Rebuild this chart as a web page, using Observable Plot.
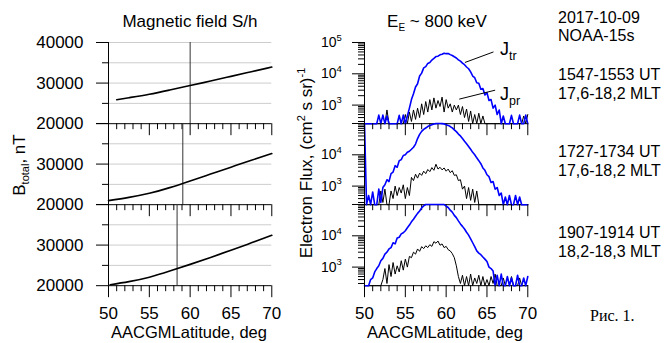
<!DOCTYPE html>
<html>
<head>
<meta charset="utf-8">
<script src="https://cdn.jsdelivr.net/npm/d3@7"></script>
<script src="https://cdn.jsdelivr.net/npm/@observablehq/plot@0.6"></script>
<style>
html, body { margin: 0; padding: 0; background: #fff; }
#fig { position: relative; width: 672px; height: 343px; overflow: hidden; background: #fff;
       font-family: "Liberation Sans", Arial, sans-serif; color: #000; }
.panel { position: absolute; }
#overlay { position: absolute; left: 0; top: 0; pointer-events: none; }
</style>
</head>
<body>
<div id="fig"></div>
<script>
// ---------------- data ----------------
const lat = [50,50.25,50.5,50.75,51,51.25,51.5,51.75,52,52.25,52.5,52.75,53,53.25,53.5,53.75,54,54.25,54.5,54.75,
  55,55.25,55.5,55.75,56,56.25,56.5,56.75,57,57.25,57.5,57.75,58,58.25,58.5,58.75,59,59.25,59.5,59.75,
  60,60.25,60.5,60.75,61,61.25,61.5,61.75,62,62.25,62.5,62.75,63,63.25,63.5,63.75,64,64.25,64.5,64.75,
  65,65.25,65.5,65.75,66,66.25,66.5,66.75,67,67.25,67.5,67.75,68,68.25,68.5,68.75,69,69.25,69.5,69.75,70];

// Electron flux, pass 1 (1547-1553 UT)
const jtr1 = [100,100,100,100,100,100,100,480,100,480,
  100,450,100,100,100,100,100,470,100,480,
  100,450,800,1500,2300,3800,4800,8500,10500,15500,
  17000,21500,23000,27500,31000,35500,36500,40500,42000,45500,
  44000,44500,41000,38500,35000,32000,28000,25500,22000,19500,
  16500,14500,11500,8500,7500,5200,5000,3200,3400,2100,
  2500,1400,1500,800,1000,500,700,100,450,100,
  100,100,470,100,100,100,480,100,100,480,100];
const jpr1 = [100,100,100,100,100,100,100,100,100,100,
  100,700,100,100,100,100,100,100,100,100,
  500,100,600,300,700,350,800,400,1100,500,
  1300,600,1500,700,1700,800,1400,900,1800,600,
  1500,800,1100,600,1000,700,1000,500,900,400,
  750,300,650,100,500,100,550,100,450,100,
  100,100,100,100,100,100,100,100,100,100,
  100,100,100,100,100,100,100,100,450,100,500];

// Electron flux, pass 2 (1727-1734 UT)
const jtr2 = [200000,100,500,100,650,100,100,800,300,900,
  1100,1600,1400,2500,2800,4500,4000,6500,7000,9500,
  10000,12000,13000,15000,17500,22000,33000,45000,56000,65000,
  72000,80000,87000,92000,96000,99000,100000,100000,99000,97000,
  92000,87000,80000,72000,63000,55000,46000,40000,33000,27000,
  22500,18500,15000,12000,10000,8000,6500,5200,3800,3200,
  2300,2000,1300,1400,800,900,500,600,100,450,
  100,500,100,100,500,100,450,100,100,100,100];
const jpr2 = [100,100,100,100,100,100,100,100,700,300,
  800,100,100,700,400,1000,500,900,600,1100,
  400,900,500,1900,1500,2400,1800,2600,2200,3000,
  2500,3400,2900,3900,3200,5000,3500,4000,3300,3800,
  3000,3500,2700,3100,2200,2300,1500,1600,800,1000,
  400,900,350,800,300,700,100,100,100,100,
  100,100,100,100,100,100,100,100,100,100,
  100,100,100,100,100,100,100,100,100,100,100];

// Electron flux, pass 3 (1907-1914 UT)
const jtr3 = [100,100,100,400,450,700,900,1100,1600,1900,
  2600,3000,3800,4200,6000,5500,8500,9000,11500,12500,
  14500,18000,22000,28000,34000,42000,52000,62000,78000,90000,
  100000,110000,120000,130000,130000,125000,120000,115000,110000,100000,
  88000,80000,66000,57000,45000,38000,30000,24000,20000,16500,
  13000,10500,8000,6000,4500,3300,2800,2500,2100,1800,
  1500,1000,900,750,100,550,100,600,100,100,
  500,100,450,100,100,550,100,100,450,100,500];
const jpr3 = [100,100,100,100,100,100,100,100,100,400,
  900,300,1200,500,1400,600,1100,700,1600,800,
  1800,1000,2200,2000,3000,2600,3800,3200,4500,3900,
  4800,4200,5200,4600,6500,5800,6800,5000,5500,4200,
  4600,3600,3300,2700,2000,1100,500,300,550,100,
  500,250,600,100,450,300,550,100,500,100,
  400,100,500,300,600,100,100,100,450,100,
  100,100,500,100,100,100,450,100,100,100,100];

// Magnetic field along each pass
const bLat1 = [51, 52.5, 55, 57.5, 60, 62.5, 65, 67.5, 70];
const bVal1 = [25900, 26400, 27250, 28300, 29400, 30500, 31650, 32800, 33950];
const bLat2 = [50, 52.5, 55, 57.5, 60, 62.5, 65, 67.5, 70];
const bVal2 = [21000, 21800, 22800, 24200, 25850, 27550, 29250, 30950, 32600];
const bLat3 = [50.2, 52.5, 55, 57.5, 60, 62.5, 65, 67.5, 70];
const bVal3 = [20250, 21000, 22100, 23600, 25250, 26950, 28700, 30550, 32400];
const markerLat = [60.0, 59.1, 58.4];

// ticks / labels
const xDomain = [50, 70];
const xMajor = [50, 55, 60, 65, 70];
const xMinor = [51, 52, 53, 54, 56, 57, 58, 59, 61, 62, 63, 64, 66, 67, 68, 69];
const bDomain = [20000, 40000];
const bMajor = [20000, 30000, 40000];
const bMinor = [25000, 35000];
const fluxDomain = [255, 100000];
const fluxMajor = [1000, 10000, 100000];
const fluxMinor = [300, 400, 500, 600, 700, 800, 900,
  2000, 3000, 4000, 5000, 6000, 7000, 8000, 9000,
  20000, 30000, 40000, 50000, 60000, 70000, 80000, 90000];

// annotation anchors (data units of the first flux panel)
const annotLeaders = [
  {lat1: 62.3, f1: 23000, lat2: 65.8, f2: 50000},
  {lat1: 61.6, f1: 1550, lat2: 66.0, f2: 3000}
];
const annotLabels = [
  {lat: 66.6, flux: 60000, sub: "tr"},
  {lat: 66.6, flux: 2240, sub: "pr"}
];

// ---------------- layout ----------------
const FONT = "Liberation Sans, Arial, Helvetica, sans-serif";
const W = 163.3, H = 81.2;
const LEFT_X = 108.3, RIGHT_X = 364.3;
const TOPS = [41.7, 122.9, 204.1];
const fig = document.getElementById("fig");

const rows = (xs, ys) => xs.map((x, i) => ({x, y: ys[i]}));

function place(svg, left, top) {
  const div = document.createElement("div");
  div.className = "panel";
  div.style.left = left + "px";
  div.style.top = top + "px";
  div.style.width = W + "px";
  div.style.height = H + "px";
  div.appendChild(svg);
  fig.appendChild(div);
}

function commonTicks(isBottom) {
  const m = [
    Plot.tickX(xMajor, {x: d => d, stroke: "black", strokeWidth: 1, insetTop: H - 12, dy: 12}),
    Plot.tickX(xMinor, {x: d => d, stroke: "black", strokeWidth: 1, insetTop: H - 6, dy: 6})
  ];
  if (isBottom) {
    m.push(Plot.text(xMajor, {x: d => d, text: d => String(d), frameAnchor: "bottom", dy: 33,
      fontSize: 17, fontFamily: FONT, fill: "black"}));
  }
  return m;
}

const plotStyle = {overflow: "visible", background: "transparent", maxWidth: "none", fontFamily: FONT};

// Magnetic field panels
const bSeries = [[bLat1, bVal1], [bLat2, bVal2], [bLat3, bVal3]];
bSeries.forEach(([bl, bv], k) => {
  const grid = k === 0 ? [25000, 30000, 35000, 40000] : [25000, 30000, 35000];
  const labs = k === 0 ? bMajor : bMajor.filter(v => v < bDomain[1]);
  const svg = Plot.plot({
    width: W, height: H,
    marginTop: 0, marginRight: 0, marginBottom: 0, marginLeft: 0,
    style: plotStyle,
    x: {domain: xDomain, axis: null},
    y: {domain: bDomain, axis: null},
    marks: [
      Plot.ruleY(grid, {y: d => d, stroke: "#cdcdcd", strokeWidth: 1}),
      Plot.ruleX([markerLat[k]], {x: d => d, stroke: "#333", strokeWidth: 1}),
      Plot.line(rows(bl, bv), {x: "x", y: "y", stroke: "black", strokeWidth: 1.6, curve: "natural"}),
      Plot.ruleX([xDomain[0]], {x: d => d, stroke: "black", strokeWidth: 1}),
      Plot.ruleY([bDomain[0]], {y: d => d, stroke: "black", strokeWidth: 1}),
      Plot.tickY(bMajor, {y: d => d, stroke: "black", insetRight: W - 12, dx: -12}),
      Plot.tickY(bMinor, {y: d => d, stroke: "black", insetRight: W - 6, dx: -6}),
      Plot.text(labs, {y: d => d, text: d => String(d), frameAnchor: "left", textAnchor: "end", dx: -25,
        fontSize: 17, fontFamily: FONT, fill: "black"}),
      ...commonTicks(k === 2)
    ]
  });
  place(svg, LEFT_X, TOPS[k]);
});

// Electron flux panels
const fSeries = [[jtr1, jpr1], [jtr2, jpr2], [jtr3, jpr3]];
fSeries.forEach(([jtr, jpr], k) => {
  const labs = k === 0 ? fluxMajor : fluxMajor.filter(v => v < fluxDomain[1]);
  const marks = [
    Plot.ruleY([fluxDomain[0]], {y: d => d, stroke: "black", strokeWidth: 1}),
    Plot.line(rows(lat, jpr), {x: "x", y: "y", stroke: "black", strokeWidth: 1}),
    Plot.line(rows(lat, jtr), {x: "x", y: "y", stroke: "#0000ff", strokeWidth: 1.6}),
    Plot.ruleX([xDomain[0]], {x: d => d, stroke: "black", strokeWidth: 1}),
    Plot.tickY(fluxMajor, {y: d => d, stroke: "black", insetRight: W - 12, dx: -12}),
    Plot.tickY(fluxMinor, {y: d => d, stroke: "black", insetRight: W - 6, dx: -6}),
    Plot.text(labs, {y: d => d, text: () => "10", frameAnchor: "left", textAnchor: "end", dx: -28,
      fontSize: 14, fontFamily: FONT, fill: "black"}),
    Plot.text(labs, {y: d => d, text: d => String(Math.round(Math.log10(d))), frameAnchor: "left",
      textAnchor: "start", dx: -28, dy: -5, fontSize: 9.5, fontFamily: FONT, fill: "black"}),
    ...commonTicks(k === 2)
  ];
  if (k === 0) {
    marks.push(
      Plot.link(annotLeaders, {x1: "lat1", y1: "f1", x2: "lat2", y2: "f2", stroke: "black", strokeWidth: 1}),
      Plot.text(annotLabels, {x: "lat", y: "flux", text: () => "J", textAnchor: "start",
        fontSize: 18, fontFamily: FONT, fill: "black"}),
      Plot.text(annotLabels, {x: "lat", y: "flux", text: "sub", textAnchor: "start", dx: 9, dy: 7,
        fontSize: 12.5, fontFamily: FONT, fill: "black"})
    );
  }
  const svg = Plot.plot({
    width: W, height: H,
    marginTop: 0, marginRight: 0, marginBottom: 0, marginLeft: 0,
    style: plotStyle,
    x: {domain: xDomain, axis: null},
    y: {type: "log", domain: fluxDomain, clamp: true, axis: null},
    marks
  });
  place(svg, RIGHT_X, TOPS[k]);
});

// ---------------- titles & side text ----------------
const ov = d3.select(fig).append("svg").attr("id", "overlay")
  .attr("width", 672).attr("height", 343)
  .attr("font-family", FONT).attr("fill", "black");

function txt(x, y, size, anchor) {
  return ov.append("text").attr("x", x).attr("y", y).attr("font-size", size).attr("text-anchor", anchor || "start");
}

txt(190, 26.5, 17, "middle").text("Magnetic field S/h");

const t2 = txt(437, 26.5, 17, "middle");
t2.append("tspan").text("E");
t2.append("tspan").attr("font-size", 10).attr("dy", 4).text("E");
t2.append("tspan").attr("dy", -4).text(" ~ 800 keV");

// rotated y titles
const yb = ov.append("text").attr("transform", "translate(25,165) rotate(-90)")
  .attr("font-size", 17).attr("text-anchor", "middle");
yb.append("tspan").text("B");
yb.append("tspan").attr("font-size", 11).attr("dy", 4).text("total");
yb.append("tspan").attr("dy", -4).text(", nT");

const yf = ov.append("text").attr("transform", "translate(312,163) rotate(-90)")
  .attr("font-size", 17).attr("text-anchor", "middle");
yf.append("tspan").text("Electron Flux, (cm");
yf.append("tspan").attr("font-size", 11).attr("dy", -7).text("2");
yf.append("tspan").attr("dy", 7).text(" s sr)");
yf.append("tspan").attr("font-size", 11).attr("dy", -7).text("-1");

// x titles
txt(189, 338, 16.5, "middle").text("AACGMLatitude, deg");
txt(445, 338, 16.5, "middle").text("AACGMLatitude, deg");

// right-hand text block
const sideLines = [
  ["2017-10-09", 22.75], ["NOAA-15s", 41.25],
  ["1547-1553 UT", 80], ["17,6-18,2 MLT", 98.5],
  ["1727-1734 UT", 157], ["17,6-18,2 MLT", 175.5],
  ["1907-1914 UT", 238], ["18,2-18,3 MLT", 256.5]
];
sideLines.forEach(([s, y]) => txt(558, y, 16, "start").text(s));
txt(590, 321, 16, "start").attr("font-family", "Liberation Serif, Times New Roman, serif").text("Рис. 1.");
</script>
</body>
</html>
